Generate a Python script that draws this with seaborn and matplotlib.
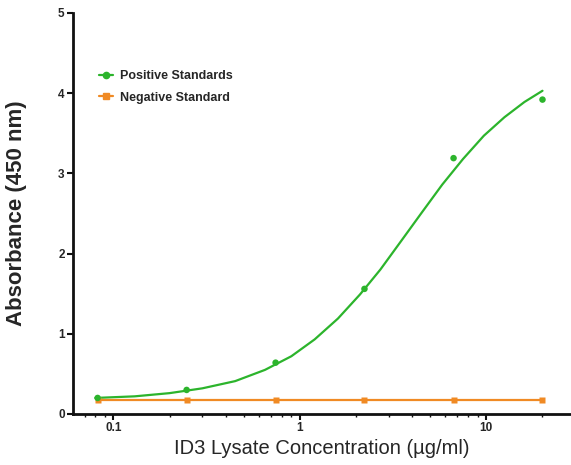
import numpy as np
import pandas as pd
import matplotlib
matplotlib.use("Agg")
import matplotlib.pyplot as plt
from matplotlib.lines import Line2D
from matplotlib.ticker import LogLocator, NullFormatter, FixedLocator, FixedFormatter
import seaborn as sns

# Datos de la placa (dilucion 1:3 desde 20 ug/ml)
conc = [0.0823, 0.247, 0.741, 2.22, 6.67, 20.0]
positivos = [0.20, 0.30, 0.64, 1.56, 3.19, 3.92]
negativos = [0.17, 0.17, 0.17, 0.17, 0.17, 0.17]

# Curva ajustada
curva_x = [0.08, 0.13, 0.2, 0.3, 0.45, 0.65, 0.9, 1.2, 1.6, 2.1, 2.7,
           3.5, 4.5, 5.8, 7.5, 9.7, 12.5, 16.0, 20.0]
curva_y = [0.20, 0.22, 0.26, 0.32, 0.41, 0.55, 0.72, 0.93, 1.19, 1.49, 1.80,
           2.16, 2.51, 2.86, 3.18, 3.47, 3.70, 3.89, 4.03]

verde = "#2cb42c"
naranja = "#f08a24"

sns.set_style("ticks")
plt.rcParams["font.family"] = ["Liberation Sans", "DejaVu Sans"]

fig = plt.figure(figsize=(5.71, 4.65), dpi=100)
ax = fig.add_axes([0.1278, 0.1097, 0.872, 0.8624])

datos = pd.DataFrame({"conc": conc, "pos": positivos, "neg": negativos})
curva = pd.DataFrame({"x": curva_x, "y": curva_y})

sns.lineplot(data=curva, x="x", y="y", color=verde, lw=1.6, ax=ax)
sns.scatterplot(data=datos, x="conc", y="pos", color=verde, s=22,
                edgecolor="none", ax=ax, zorder=3)
sns.lineplot(data=datos, x="conc", y="neg", color=naranja, lw=1.6,
             marker="s", markersize=5, markeredgecolor="none", ax=ax)

ax.set_xscale("log")
ax.set_xlim(0.0607, 28.4)
ax.set_ylim(0, 5)

ax.xaxis.set_major_locator(FixedLocator([0.1, 1, 10]))
ax.xaxis.set_major_formatter(FixedFormatter(["0.1", "1", "10"]))
ax.xaxis.set_minor_locator(LogLocator(base=10, subs=np.arange(2, 10)))
ax.xaxis.set_minor_formatter(NullFormatter())
ax.set_yticks([0, 1, 2, 3, 4, 5])

for s in ["top", "right"]:
    ax.spines[s].set_visible(False)
for s in ["left", "bottom"]:
    ax.spines[s].set_linewidth(2)
    ax.spines[s].set_color("#111111")

ax.tick_params(axis="both", which="major", length=4, width=1.5, color="#111111",
               labelsize=8.5, pad=2)
ax.tick_params(axis="x", which="minor", length=2.5, width=1, color="#111111")
for lab in ax.get_xticklabels() + ax.get_yticklabels():
    lab.set_fontweight("bold")

ax.set_xlabel("ID3 Lysate Concentration (µg/ml)", fontsize=14.5)
ax.set_ylabel("Absorbance (450 nm)", fontsize=16, fontweight="bold")
ax.xaxis.set_label_coords(0.5, -0.062)
ax.yaxis.set_label_coords(-0.092, 0.5)

handles = [
    Line2D([], [], color=verde, lw=1.6, marker="o", markersize=4.5),
    Line2D([], [], color=naranja, lw=1.6, marker="s", markersize=4.5),
]
ax.legend(handles, ["Positive Standards", "Negative Standard"],
          loc="upper left", bbox_to_anchor=(0.03, 0.885), frameon=False,
          handlelength=1.1, handletextpad=0.6, labelspacing=0.75,
          prop={"weight": "bold", "size": 9})

fig.savefig("out.png", dpi=100)
